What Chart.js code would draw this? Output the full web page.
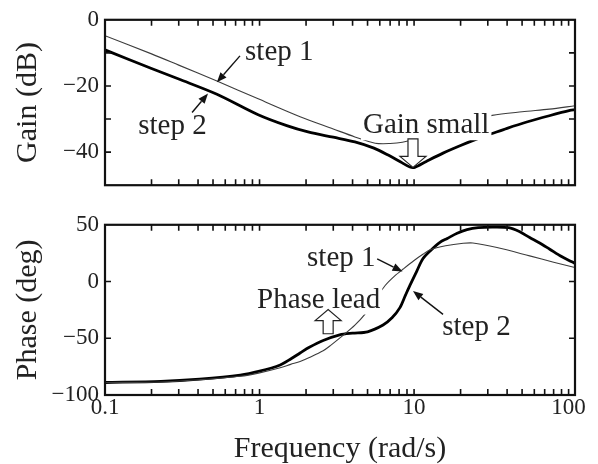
<!DOCTYPE html>
<html>
<head>
<meta charset="utf-8">
<script src="https://cdn.jsdelivr.net/npm/chart.js@4.4.1/dist/chart.umd.min.js"></script>
<style>
  body { margin: 0; background: #fff; }
  #wrap { position: relative; width: 598px; height: 464px; }
  canvas { position: absolute; left: 0; }
</style>
</head>
<body>
<div id="wrap">
  <canvas id="gain" width="598" height="205" style="top:0"></canvas>
  <canvas id="phase" width="598" height="259" style="top:205px"></canvas>
</div>
<script>
const FONT = "'Liberation Serif', 'Times New Roman', serif";

// frequency axis (rad/s)
const freqLabels = [0.1, 1, 10, 100];

// gain (dB), step 1 = thin, step 2 = thick
const gainFreq1 = [0.1, 0.2, 0.3, 0.53, 0.98, 1.83, 3.0, 4.14, 5.6, 7.0, 8.4, 11, 16, 22, 32, 50, 75, 110];
const gainStep1 = [-4.8, -10.3, -13.7, -18.5, -23.9, -29.3, -33.0, -35.4, -37.3, -37.4, -37.0, -35.5, -33.0, -30.8, -28.9, -27.8, -27.0, -26.0];
const gainFreq2 = [0.1, 0.2, 0.3, 0.53, 0.98, 1.5, 2.06, 3.0, 4.14, 5.5, 6.8, 8.2, 9.4, 10.1, 12, 15.4, 20, 25.6, 32.4, 40, 53.6, 75, 102, 110];
const gainStep2 = [-9.1, -14.7, -17.9, -22.5, -28.7, -32.0, -33.9, -35.5, -36.9, -38.8, -40.9, -43.0, -44.5, -44.6, -42.8, -40.3, -38.0, -36.0, -34.3, -32.8, -30.9, -29.0, -27.4, -27.2];
const gainTicks = [0, -20, -40];
const gainMarks = [-10, -20, -30, -40];

// phase (deg)
const phaseFreq1 = [0.1, 0.23, 0.41, 0.75, 1.0, 1.36, 1.59, 1.83, 2.1, 2.58, 2.9, 3.47, 4.14, 4.8, 5.6, 6.5, 7.5, 8.5, 10, 11.4, 12.7, 16, 20.8, 24, 34.4, 56, 80, 105, 110];
const phaseStep1 = [-89, -88.5, -86.5, -83.5, -80.5, -76, -73, -70.5, -67, -61, -56, -47.5, -38.5, -29, -16, -3.5, 5, 11, 18.5, 24, 28, 31.5, 33.7, 34, 30, 22.6, 17, 13, 12.5];
const phaseFreq2 = [0.1, 0.23, 0.41, 0.75, 1.0, 1.36, 1.6, 1.83, 2.1, 2.58, 3.3, 4.0, 5.0, 6.3, 7.2, 8.1, 8.8, 9.4, 10.4, 11.4, 12.7, 14.7, 16.4, 19, 22, 26, 32, 41, 48, 56, 65, 75.5, 90, 105, 110];
const phaseStep2 = [-89, -88, -86, -82.5, -79, -73.5, -68, -63, -58, -52, -47, -45.5, -44.3, -38.3, -32, -23, -12, -3.4, 9, 20, 27, 34.6, 38, 42.5, 45.7, 47.5, 48, 47.5, 44, 38.8, 34, 28.5, 22, 17.4, 16];
const phaseTicks = [50, 0, -50, -100];
const phaseMarks = [0, -50];

// minor/major tick marks along the log axis
const freqMarks = [];
[0.1, 1, 10].forEach(d => { for (let m = 1; m <= 9; m++) freqMarks.push(d * m); });
freqMarks.push(100);

const pts = (xs, ys) => xs.map((x, i) => ({ x, y: ys[i] }));
const fmt = v => (v < 0 ? '\u2212' + Math.abs(v) : String(v));

// box frame with inward ticks, labels with white backing, arrows
const framePlugin = {
  id: 'frame',
  afterDatasetsDraw(chart, args, opts) {
    const { ctx, chartArea: a, scales: { x, y } } = chart;
    const px = (f, v) => [x.getPixelForValue(f), y.getPixelForValue(v)];
    ctx.save();

    (opts.notes || []).forEach(n => {
      const [tx, ty] = px(n.at[0], n.at[1]);
      ctx.font = `29px ${FONT}`;
      ctx.textAlign = 'left';
      ctx.textBaseline = 'alphabetic';
      const w = ctx.measureText(n.text).width;
      if (n.mask) {
        ctx.fillStyle = '#fff';
        ctx.fillRect(tx - 2, ty - 22, w + 4, 29);
      }
      ctx.fillStyle = '#222';
      ctx.fillText(n.text, tx, ty);
    });

    (opts.arrows || []).forEach(ar => {
      const [x0, y0] = px(ar.from[0], ar.from[1]);
      const [x1, y1] = px(ar.to[0], ar.to[1]);
      const ang = Math.atan2(y1 - y0, x1 - x0);
      const hl = 10, hw = 4;
      const bx = x1 - hl * Math.cos(ang), by = y1 - hl * Math.sin(ang);
      ctx.strokeStyle = '#111';
      ctx.lineWidth = 1.4;
      ctx.beginPath();
      ctx.moveTo(x0, y0);
      ctx.lineTo(bx, by);
      ctx.stroke();
      ctx.fillStyle = '#111';
      ctx.beginPath();
      ctx.moveTo(x1, y1);
      ctx.lineTo(bx + hw * Math.sin(ang), by - hw * Math.cos(ang));
      ctx.lineTo(bx - hw * Math.sin(ang), by + hw * Math.cos(ang));
      ctx.closePath();
      ctx.fill();
    });

    (opts.hollow || []).forEach(h => {
      const [cx, yTail] = px(h.at, h.from);
      const yTip = y.getPixelForValue(h.to);
      const dir = yTip > yTail ? 1 : -1;
      const yNeck = yTip - dir * 11;
      ctx.beginPath();
      ctx.moveTo(cx - 5, yTail);
      ctx.lineTo(cx - 5, yNeck);
      ctx.lineTo(cx - 13, yNeck);
      ctx.lineTo(cx, yTip);
      ctx.lineTo(cx + 13, yNeck);
      ctx.lineTo(cx + 5, yNeck);
      ctx.lineTo(cx + 5, yTail);
      ctx.closePath();
      ctx.fillStyle = '#fff';
      ctx.fill();
      ctx.strokeStyle = '#222';
      ctx.lineWidth = 1.2;
      ctx.stroke();
    });

    ctx.strokeStyle = '#111';
    ctx.lineWidth = 2.2;
    ctx.strokeRect(a.left, a.top, a.right - a.left, a.bottom - a.top);
    ctx.lineWidth = 1.6;
    ctx.beginPath();
    freqMarks.forEach(f => {
      const p = x.getPixelForValue(f);
      if (p <= a.left + 1 || p >= a.right - 1) return;
      ctx.moveTo(p, a.top); ctx.lineTo(p, a.top + 6);
      ctx.moveTo(p, a.bottom); ctx.lineTo(p, a.bottom - 6);
    });
    (opts.yMarks || []).forEach(v => {
      const p = y.getPixelForValue(v);
      ctx.moveTo(a.left, p); ctx.lineTo(a.left + 6, p);
      ctx.moveTo(a.right, p); ctx.lineTo(a.right - 6, p);
    });
    ctx.stroke();
    ctx.restore();
  }
};

function bode(id, cfg) {
  return new Chart(document.getElementById(id), {
    type: 'line',
    data: {
      datasets: [
        { label: 'step 1', data: cfg.step1, borderColor: '#3c3c3c', borderWidth: 1.1 },
        { label: 'step 2', data: cfg.step2, borderColor: '#000', borderWidth: 2.8 }
      ]
    },
    options: {
      responsive: false,
      animation: false,
      layout: { padding: { top: cfg.top, right: 23, left: 0, bottom: 0 } },
      elements: { point: { radius: 0 }, line: { tension: 0.3 } },
      plugins: { legend: { display: false }, tooltip: { enabled: false }, frame: cfg.frame },
      scales: {
        x: {
          type: 'logarithmic', min: 0.1, max: 110,
          grid: { display: false, drawTicks: false }, border: { display: false },
          afterBuildTicks: s => { s.ticks = freqLabels.map(v => ({ value: v })); },
          afterFit: s => { s.height = cfg.xHeight; },
          ticks: {
            display: cfg.xLabels, autoSkip: false, maxRotation: 0, padding: 1, color: '#222',
            font: { family: FONT, size: 23, lineHeight: 1 },
            callback: v => String(v)
          },
          title: {
            display: cfg.xLabels, text: 'Frequency (rad/s)', color: '#222',
            font: { family: FONT, size: 30, lineHeight: 1 }, padding: { top: 0, bottom: 0 }
          }
        },
        y: {
          min: cfg.min, max: cfg.max,
          grid: { display: false, drawTicks: false }, border: { display: false },
          afterBuildTicks: s => { s.ticks = cfg.ticks.map(v => ({ value: v })); },
          afterFit: s => { s.width = 105; },
          ticks: { padding: 6, color: '#222', font: { family: FONT, size: 23 }, callback: v => fmt(v) },
          title: {
            display: true, text: cfg.title, color: '#222',
            font: { family: FONT, size: 30, lineHeight: 1 }, padding: { top: 13, bottom: 0 }
          }
        }
      }
    },
    plugins: [framePlugin]
  });
}

bode('gain', {
  step1: pts(gainFreq1, gainStep1),
  step2: pts(gainFreq2, gainStep2),
  min: -50, max: 0, ticks: gainTicks, title: 'Gain (dB)',
  top: 19, xHeight: 12, xLabels: false,
  frame: {
    yMarks: gainMarks,
    notes: [
      { text: 'step 1', at: [0.806, -12.3] },
      { text: 'step 2', at: [0.164, -34.6] },
      { text: 'Gain small', at: [4.67, -34.3], mask: true }
    ],
    arrows: [
      { from: [0.747, -10.9], to: [0.53, -18.9] },
      { from: [0.366, -28], to: [0.464, -22.3] }
    ],
    hollow: [{ at: 9.84, from: -36, to: -44.6 }]
  }
});

bode('phase', {
  step1: pts(phaseFreq1, phaseStep1),
  step2: pts(phaseFreq2, phaseStep2),
  min: -100, max: 50, ticks: phaseTicks, title: 'Phase (deg)',
  top: 15, xHeight: 69, xLabels: true,
  frame: {
    yMarks: phaseMarks,
    notes: [
      { text: 'step 1', at: [2.03, 14] },
      { text: 'Phase lead', at: [0.963, -22.9], mask: true },
      { text: 'step 2', at: [15.2, -46.9] }
    ],
    arrows: [
      { from: [5.77, 20], to: [8.42, 8.8] },
      { from: [15.4, -28.9], to: [9.84, -8.3] }
    ],
    hollow: [{ at: 2.78, from: -46, to: -24.7 }]
  }
});
</script>
</body>
</html>
